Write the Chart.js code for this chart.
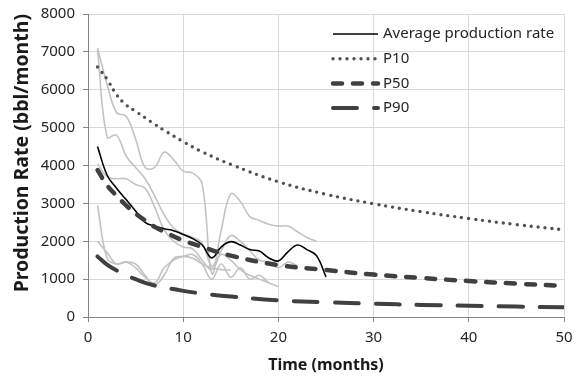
<!DOCTYPE html>
<html>
<head>
<meta charset="utf-8">
<script src="https://cdn.jsdelivr.net/npm/chart.js@4"></script>
<style>
  html, body { margin: 0; padding: 0; background: #fff; }
</style>
</head>
<body>
<canvas id="chartRate" width="576" height="380"></canvas>
<script>
// meses usados para as curvas P10/P50/P90
const mesesCurva = [1, 2, 3, 4, 5, 6, 7, 8, 10, 12, 15, 20, 25, 30, 35, 40, 45, 50];
const p10 = [6600, 6280, 5870, 5600, 5430, 5260, 5090, 4930, 4630, 4360, 4030, 3570, 3240, 2990, 2780, 2600, 2440, 2300];
const p50 = [3880, 3480, 3200, 2950, 2730, 2550, 2380, 2250, 2020, 1850, 1620, 1370, 1240, 1120, 1030, 950, 880, 820];
const p90 = [1600, 1380, 1230, 1100, 1000, 900, 830, 780, 690, 620, 540, 440, 390, 350, 320, 295, 275, 260];

// producao media, meses 1..25
const mediaProducao = [4500, 3750, 3400, 3100, 2800, 2500, 2400, 2330, 2280, 2180, 2070, 1900, 1560,
  1850, 1990, 1900, 1780, 1740, 1560, 1480, 1720, 1900, 1780, 1620, 1060];

// pocos individuais (cinza), mes 1 em diante
const pocoA = [7100, 6150, 5400, 5300, 4700, 3950, 3950, 4350, 4150, 3850, 3800, 3500, 1150, 2300,
  3250, 3050, 2650, 2550, 2450, 2400, 2400, 2250, 2100, 2000];
const pocoB = [7050, 4750, 4800, 4250, 3950, 3650, 3200, 2700, 2350, 2200, 2100, 1950, 1350, 1650,
  1500, 1250, 1100, 1000, 900, 800];
const pocoC = [4050, 3700, 3650, 3650, 3500, 3400, 2900, 2300, 2000, 1850, 1800, 1500, 1250, 1750,
  2150, 2000, 1750, 1500, 1450, 1300, 1450, 1350];
const pocoD = [2950, 1550, 1400, 1450, 1300, 1050, 900, 1300, 1500, 1600, 1550, 1400, 1300, 1250, 1240];
const pocoE = [2000, 1700, 1400, 1450, 1400, 1100, 850, 1100, 1550, 1600, 1650, 1400, 1000, 1400,
  1050, 1300, 1000, 1100, 900];

const ticksX = [0, 10, 20, 30, 40, 50];
const ticksY = [0, 1000, 2000, 3000, 4000, 5000, 6000, 7000, 8000];

function pontosPorMes(valores) {
  return valores.map(function (v, i) { return { x: i + 1, y: v }; });
}

function pontosCurva(valores) {
  return valores.map(function (v, i) { return { x: mesesCurva[i], y: v }; });
}

function datasetPoco(valores) {
  return {
    label: '',
    data: pontosPorMes(valores),
    borderColor: '#c3c3c3',
    borderWidth: 1.6,
    pointRadius: 0,
    tension: 0.4,
    order: 10
  };
}

const legendaInterna = {
  id: 'legendaInterna',
  afterDatasetsDraw(chart) {
    const ctx = chart.ctx;
    const itens = chart.data.datasets.filter(function (d) { return d.naLegenda; });
    ctx.save();
    ctx.font = '15px "Noto Sans"';
    ctx.textBaseline = 'middle';
    ctx.fillStyle = '#262626';
    itens.forEach(function (d, i) {
      const y = 34 + i * 24.7;
      ctx.beginPath();
      ctx.setLineDash(d.borderDash || []);
      ctx.lineCap = d.borderCapStyle || 'butt';
      ctx.lineWidth = d.borderWidth;
      ctx.strokeStyle = d.borderColor;
      ctx.moveTo(333, y);
      ctx.lineTo(378, y);
      ctx.stroke();
      ctx.setLineDash([]);
      ctx.fillText(d.label, 383, y);
    });
    ctx.restore();
  }
};

const graficoProducao = new Chart(document.getElementById('chartRate'), {
  type: 'line',
  data: {
    datasets: [
      {
        label: 'Average production rate',
        data: pontosPorMes(mediaProducao),
        borderColor: '#000000',
        borderWidth: 1.6,
        pointRadius: 0,
        tension: 0.4,
        naLegenda: true,
        order: 2
      },
      {
        label: 'P10',
        data: pontosCurva(p10),
        borderColor: '#505050',
        borderWidth: 3.4,
        borderDash: [0, 7],
        borderCapStyle: 'round',
        pointRadius: 0,
        tension: 0.4,
        naLegenda: true,
        order: 1
      },
      {
        label: 'P50',
        data: pontosCurva(p50),
        borderColor: '#404040',
        borderWidth: 4.5,
        borderDash: [9, 11],
        borderCapStyle: 'round',
        pointRadius: 0,
        tension: 0.4,
        naLegenda: true,
        order: 1
      },
      {
        label: 'P90',
        data: pontosCurva(p90),
        borderColor: '#404040',
        borderWidth: 4,
        borderDash: [24, 17],
        borderCapStyle: 'round',
        pointRadius: 0,
        tension: 0.4,
        naLegenda: true,
        order: 1
      },
      datasetPoco(pocoA),
      datasetPoco(pocoB),
      datasetPoco(pocoC),
      datasetPoco(pocoD),
      datasetPoco(pocoE)
    ]
  },
  options: {
    responsive: false,
    animation: false,
    devicePixelRatio: 1,
    layout: { padding: { left: 0, right: 12, top: 14, bottom: 0 } },
    plugins: {
      legend: { display: false },
      tooltip: { enabled: false }
    },
    scales: {
      x: {
        type: 'linear',
        min: 0,
        max: 50,
        afterBuildTicks: function (scale) { scale.ticks = ticksX.map(function (v) { return { value: v }; }); },
        afterFit: function (scale) {
          scale.height = 63;
          scale.paddingLeft = 0;
          scale.paddingRight = 0;
        },
        grid: { color: '#d9d9d9', tickColor: '#868686', tickLength: 5 },
        border: { color: '#868686' },
        ticks: {
          color: '#262626', padding: 7, maxRotation: 0,
          font: { family: 'Noto Sans', size: 15 },
          callback: function (v) { return String(v); }
        },
        title: {
          display: true,
          text: 'Time (months)',
          color: '#1a1a1a',
          padding: { top: 4, bottom: 5 },
          font: { family: 'Noto Sans', size: 16, weight: 'bold' }
        }
      },
      y: {
        min: 0,
        max: 8000,
        afterBuildTicks: function (scale) { scale.ticks = ticksY.map(function (v) { return { value: v }; }); },
        afterFit: function (scale) {
          scale.width = 88;
          scale.paddingTop = 0;
          scale.paddingBottom = 0;
        },
        grid: { color: '#d9d9d9', tickColor: '#868686', tickLength: 5 },
        border: { color: '#868686' },
        ticks: {
          color: '#262626', padding: 8,
          font: { family: 'Noto Sans', size: 15 },
          callback: function (v) { return String(v); }
        },
        title: {
          display: true,
          text: 'Production Rate (bbl/month)',
          align: 'end',
          color: '#1a1a1a',
          padding: { top: 11, bottom: 0 },
          font: { family: 'Noto Sans', size: 19.5, weight: 'bold' }
        }
      }
    }
  },
  plugins: [legendaInterna]
});
</script>
</body>
</html>
